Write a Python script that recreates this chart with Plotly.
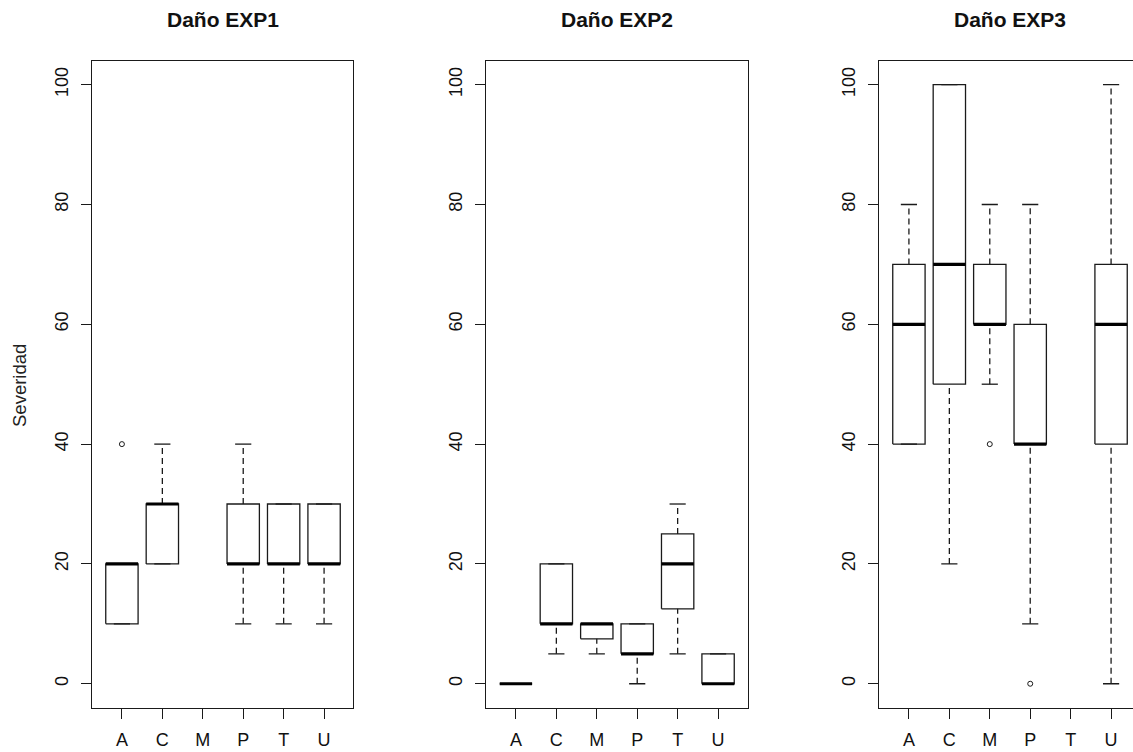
import plotly.graph_objects as go

categories = ["A", "C", "M", "P", "T", "U"]
y_ticks = [0, 20, 40, 60, 80, 100]

titles = ["Daño EXP1", "Daño EXP2", "Daño EXP3"]
y_label = "Severidad"

# Box statistics (None = no data for that category)
exp1_low = [10, 20, None, 10, 10, 10]
exp1_q1 = [10, 20, None, 20, 20, 20]
exp1_med = [20, 30, None, 20, 20, 20]
exp1_q3 = [20, 30, None, 30, 30, 30]
exp1_high = [20, 40, None, 40, 30, 30]
exp1_out = [[40], [], [], [], [], []]

exp2_low = [0, 5, 5, 0, 5, 0]
exp2_q1 = [0, 10, 7.5, 5, 12.5, 0]
exp2_med = [0, 10, 10, 5, 20, 0]
exp2_q3 = [0, 20, 10, 10, 25, 5]
exp2_high = [0, 20, 10, 10, 30, 5]
exp2_out = [[], [], [], [], [], []]

exp3_low = [40, 20, 50, 10, None, 0]
exp3_q1 = [40, 50, 60, 40, None, 40]
exp3_med = [60, 70, 60, 40, None, 60]
exp3_q3 = [70, 100, 70, 60, None, 70]
exp3_high = [80, 100, 80, 80, None, 100]
exp3_out = [[], [], [40], [0], [], []]

panels = [
    (exp1_low, exp1_q1, exp1_med, exp1_q3, exp1_high, exp1_out),
    (exp2_low, exp2_q1, exp2_med, exp2_q3, exp2_high, exp2_out),
    (exp3_low, exp3_q1, exp3_med, exp3_q3, exp3_high, exp3_out),
]

W, H = 1133, 752
BOX_W = 0.8
STAPLE_W = 0.4
LINE = "#1a1a1a"
FONT = "Liberation Sans, Arial, sans-serif"

# panel pixel extents
px_left = [92, 486, 879]
px_right = [353, 748, 1141]
unit = 262 / 6.48
top_px, bot_px = 60.7, 707.7

fig = go.Figure()

for p, (low, q1, med, q3, high, outl) in enumerate(panels):
    xa = "x" if p == 0 else f"x{p+1}"
    ya = "y" if p == 0 else f"y{p+1}"
    bx, by, mx, my, wx, wy, sx, sy, ox, oy = [], [], [], [], [], [], [], [], [], []
    for i, c in enumerate(categories):
        pos = i + 1
        if med[i] is None:
            continue
        l, r = pos - BOX_W / 2, pos + BOX_W / 2
        bx += [l, r, r, l, l, None]
        by += [q1[i], q1[i], q3[i], q3[i], q1[i], None]
        mx += [l, r, None]
        my += [med[i], med[i], None]
        wx += [pos, pos, None, pos, pos, None]
        wy += [low[i], q1[i], None, q3[i], high[i], None]
        sl, sr = pos - STAPLE_W / 2, pos + STAPLE_W / 2
        sx += [sl, sr, None, sl, sr, None]
        sy += [low[i], low[i], None, high[i], high[i], None]
        for o in outl[i]:
            ox.append(pos)
            oy.append(o)
    fig.add_trace(go.Scatter(x=wx, y=wy, mode="lines", xaxis=xa, yaxis=ya,
                             line=dict(color=LINE, width=1.3, dash="6px,4px"),
                             hoverinfo="skip", showlegend=False))
    fig.add_trace(go.Scatter(x=sx, y=sy, mode="lines", xaxis=xa, yaxis=ya,
                             line=dict(color=LINE, width=1.3),
                             hoverinfo="skip", showlegend=False))
    fig.add_trace(go.Scatter(x=bx, y=by, mode="lines", xaxis=xa, yaxis=ya,
                             line=dict(color=LINE, width=1.3),
                             hoverinfo="skip", showlegend=False))
    fig.add_trace(go.Scatter(x=mx, y=my, mode="lines", xaxis=xa, yaxis=ya,
                             line=dict(color="#000000", width=3.2),
                             hoverinfo="skip", showlegend=False))
    fig.add_trace(go.Scatter(x=ox, y=oy, mode="markers", xaxis=xa, yaxis=ya,
                             marker=dict(symbol="circle-open", size=5,
                                         color=LINE, line=dict(width=1)),
                             hoverinfo="skip", showlegend=False))

layout = dict(
    width=W, height=H,
    margin=dict(l=0, r=0, t=0, b=0, autoexpand=False),
    paper_bgcolor="white", plot_bgcolor="white",
    font=dict(family=FONT, size=18, color="#111111"),
    showlegend=False,
)

ydom = [1 - bot_px / H, 1 - top_px / H]
annotations = []
for p in range(3):
    xl = px_left[p] / W
    xr = min(px_right[p], W) / W
    xmax = 0.26 + (min(px_right[p], W) - px_left[p]) / unit
    xkey = "xaxis" if p == 0 else f"xaxis{p+1}"
    ykey = "yaxis" if p == 0 else f"yaxis{p+1}"
    ya = "y" if p == 0 else f"y{p+1}"
    xa = "x" if p == 0 else f"x{p+1}"
    layout[xkey] = dict(
        domain=[xl, xr], range=[0.26, xmax], anchor=ya, automargin=False,
        tickmode="array", tickvals=list(range(1, len(categories) + 1)),
        ticktext=categories, ticks="outside", ticklen=10, tickwidth=1.3,
        tickcolor=LINE, showline=True, linecolor=LINE, linewidth=1.3,
        mirror=True, showgrid=False, zeroline=False, ticklabelstandoff=6,
        tickfont=dict(size=18),
    )
    layout[ykey] = dict(
        domain=ydom, range=[-4, 104], anchor=xa, automargin=False,
        tickmode="array", tickvals=y_ticks, ticks="outside", ticklen=10,
        tickwidth=1.3, tickcolor=LINE, showline=True, linecolor=LINE,
        linewidth=1.3, mirror=(p < 2), showgrid=False, zeroline=False,
        tickangle=-90, ticklabelstandoff=6, tickfont=dict(size=18),
    )
    cx = (px_left[p] + px_right[p]) / 2 / W
    annotations.append(dict(
        text=f"<b>{titles[p]}</b>", x=cx, y=1 - 20 / H, xref="paper",
        yref="paper", xanchor="center", yanchor="middle", showarrow=False,
        font=dict(size=21, family=FONT, color="#111111"),
    ))

annotations.append(dict(
    text=y_label, x=19 / W, y=1 - 386 / H, xref="paper", yref="paper",
    xanchor="center", yanchor="middle", textangle=-90, showarrow=False,
    font=dict(size=18.5, family=FONT, color="#222222"),
))
layout["annotations"] = annotations

fig.update_layout(**layout)
fig.write_html(
    "out.html",
    config={"displayModeBar": False},
    post_script="document.body.style.margin='0';document.body.style.overflow='hidden';",
)
